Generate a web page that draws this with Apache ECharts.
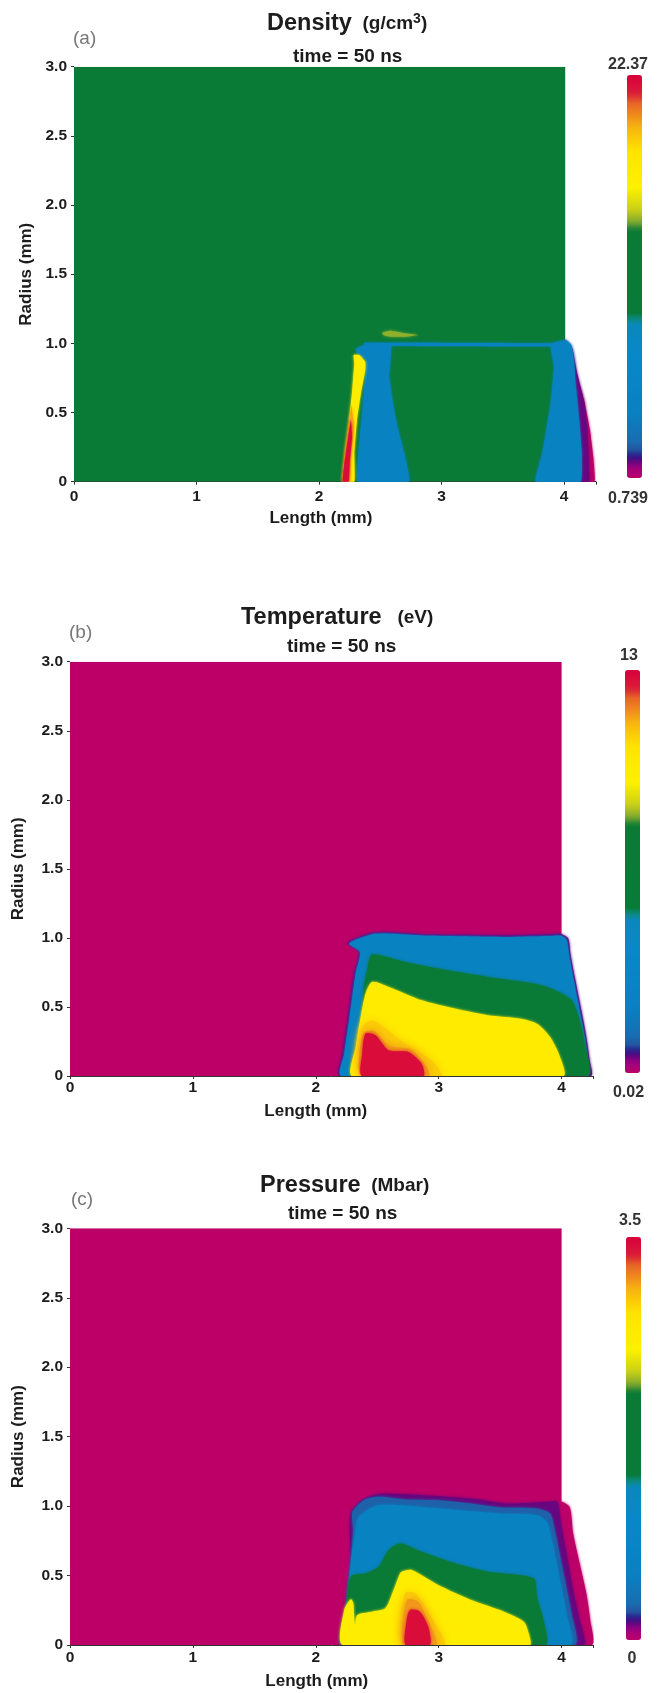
<!DOCTYPE html>
<html><head><meta charset="utf-8">
<script src="https://cdn.jsdelivr.net/npm/echarts@6/dist/echarts.min.js"></script>
<style>html,body{margin:0;padding:0;background:#fff}#c{width:662px;height:1693px;filter:blur(0.55px)}</style>
</head><body><div id="c"></div>
<script>
const lengthTicks = ['0','1','2','3','4'];
const radiusTicks = ['0','0.5','1.0','1.5','2.0','2.5','3.0'];

const densityRange = [0.739, 22.37];
const densityLevels = [11.5, 0.74, 1.6, 5.06, 5.06, 5.06, 16.7, 19.8, 21.9, 14.6];
const densityOutlines = [
 [[0,0],[4.01,0],[4.01,3],[0,3]],
 [[4.12,.7],[4.163,.59],[4.212,.373],[4.239,.18],[4.25,0],[4.136,0]],
 [[4.014,1.024],[4.068,.964],[4.109,.783],[4.163,.59],[4.19,.4],[4.207,0],[4.136,0],[4,1]],
 [[3.891,.995],[4.014,1.024],[4.06,.988],[4.082,.88],[4.095,.711],[4.122,.47],[4.144,.229],[4.136,0],[3.769,0],[3.823,.205],[3.891,.566],[3.918,.831]],
 [[2.37,.985],[3.9,.98],[3.9,1],[2.37,1.005]],
 [[2.37,.988],[2.587,.988],[2.573,.759],[2.628,.446],[2.696,.205],[2.736,0],[2.315,0],[2.342,.398],[2.378,.759],[2.383,.88],[2.31,.93],[2.3,.96]],
 [[2.283,.916],[2.329,.916],[2.378,.867],[2.378,.807],[2.342,.639],[2.31,.446],[2.288,.205],[2.288,0],[2.193,0],[2.212,.205],[2.247,.446],[2.274,.687],[2.288,.855]],
 [[2.265,.55],[2.285,.4],[2.262,.2],[2.25,0],[2.193,0],[2.212,.205],[2.247,.446]],
 [[2.261,.45],[2.27,.325],[2.25,.13],[2.242,0],[2.193,0],[2.207,.13],[2.239,.325]],
 [[2.516,1.078],[2.583,1.092],[2.707,1.072],[2.815,1.06],[2.707,1.048],[2.583,1.048],[2.527,1.06]]
];

const temperatureRange = [0.02, 13];
const temperatureLevels = [0.02, 0.54, 2.6, 6.5, 9.9, 10.9, 11.6, 12.74];
const temperatureOutlines = [
 [[0,0],[4,0],[4,3],[0,3]],
 [[2.257,.964],[2.458,1.036],[2.592,1.041],[2.861,1.027],[3.182,1.022],[3.558,1.019],[3.906,1.027],[4,1.027],[4.054,.995],[4.072,.886],[4.107,.717],[4.161,.476],[4.201,.283],[4.228,.114],[4.236,0],[2.196,0],[2.217,.162],[2.257,.403],[2.311,.742],[2.351,.899]],
 [[2.271,.959],[2.458,1.027],[2.592,1.031],[2.861,1.017],[3.182,1.012],[3.558,1.007],[3.906,1.014],[3.992,1.017],[4.04,.988],[4.062,.874],[4.094,.717],[4.147,.476],[4.188,.283],[4.214,.114],[4.209,0],[2.209,0],[2.231,.162],[2.271,.403],[2.324,.742],[2.359,.899]],
 [[2.458,.879],[2.727,.826],[2.995,.778],[3.397,.717],[3.772,.669],[3.933,.626],[4.08,.548],[4.147,.403],[4.188,.234],[4.209,0],[2.298,0],[2.365,.283],[2.391,.645],[2.418,.766]],
 [[2.458,.681],[2.592,.645],[2.861,.548],[3.129,.488],[3.397,.44],[3.665,.415],[3.799,.379],[3.906,.283],[3.987,.138],[4.013,0],[2.298,0],[2.324,.21],[2.365,.428],[2.405,.597]],
 [[2.378,0],[2.365,.33],[2.458,.403],[2.727,.234],[2.941,.114],[3.021,0]],
 [[2.375,0],[2.38,.3],[2.47,.33],[2.6,.22],[2.78,.19],[2.9,.07],[2.92,0]],
 [[2.405,.307],[2.485,.295],[2.592,.186],[2.753,.174],[2.861,.089],[2.874,0],[2.378,0],[2.378,.162]]
];

const pressureRange = [0, 3.5];
const pressureLevels = [0, 0, 0.14, 0.28, 0.7, 1.75, 2.6, 2.94, 3.12, 3.43];
const pressureOutlines = [
 [[0,0],[4,0],[4,3],[0,3]],
 [[4,1.031],[4.067,.99],[4.094,.803],[4.147,.588],[4.201,.372],[4.233,.18],[4.247,0],[3.9,0],[3.9,1.03]],
 [[2.284,.947],[2.378,1.043],[2.512,1.086],[2.861,1.079],[3.263,1.055],[3.558,1.019],[3.906,1.031],[3.965,1.031],[4,.85],[4.04,.66],[4.094,.396],[4.147,.18],[4.174,0],[2.223,0],[2.249,.276],[2.284,.588]],
 [[2.298,.959],[2.391,1.043],[2.512,1.067],[2.727,1.048],[2.995,1.043],[3.263,1.019],[3.504,.99],[3.799,.983],[3.906,.947],[3.933,.875],[3.973,.707],[4.027,.468],[4.08,.228],[4.102,0],[2.223,0],[2.249,.276],[2.284,.588],[2.303,.827]],
 [[2.351,.923],[2.512,1.007],[2.995,.983],[3.504,.947],[3.799,.935],[3.879,.887],[3.933,.707],[3.987,.468],[4.04,.228],[4.067,0],[2.223,0],[2.249,.276],[2.284,.588],[2.32,.8]],
 [[2.249,.276],[2.284,.492],[2.405,.516],[2.512,.564],[2.592,.683],[2.686,.731],[2.861,.671],[3.129,.588],[3.397,.528],[3.772,.48],[3.799,.348],[3.858,.156],[3.866,0],[2.223,0]],
 [[2.7,.528],[2.78,.54],[2.995,.432],[3.263,.324],[3.531,.24],[3.692,.168],[3.732,.084],[3.74,0],[2.223,0],[2.231,.252],[2.284,.33],[2.305,.3],[2.318,.14],[2.338,.216],[2.458,.24],[2.566,.264],[2.633,.396],[2.686,.516]],
 [[2.727,.372],[2.807,.372],[2.968,.156],[3.048,0],[2.7,0]],
 [[2.74,.324],[2.834,.312],[2.914,.18],[2.981,0],[2.713,0]],
 [[2.767,.252],[2.847,.24],[2.914,.132],[2.928,0],[2.732,0],[2.74,.18]]
];

/* colour bar stops: fraction from bottom, colour */
const barStops = [[0,'#bc0068'],[.025,'#a00080'],[.045,'#55087f'],[.055,'#2a1c8c'],[.07,'#22559f'],[.09,'#1a6cb0'],[.16,'#0a80c0'],[.3,'#0888c8'],[.38,'#0a88bb'],[.395,'#0c8a80'],[.41,'#0a7a38'],[.615,'#0a7a35'],[.635,'#80a830'],[.665,'#c8d018'],[.72,'#fff000'],[.81,'#ffe400'],[.87,'#f6b410'],[.93,'#e86428'],[.955,'#da1c38'],[1,'#d8003c']];

function barColors() {
  const hex = c => [1,3,5].map(i => parseInt(c.slice(i,i+2),16));
  const out = [];
  for (let i = 0; i <= 100; i++) {
    const f = i / 100;
    let k = 0;
    while (k < barStops.length - 2 && barStops[k+1][0] < f) k++;
    const [f0,c0] = barStops[k], [f1,c1] = barStops[k+1];
    const t = Math.min(1, Math.max(0, (f - f0) / (f1 - f0)));
    const a = hex(c0), b = hex(c1);
    out.push('rgb(' + a.map((v,j) => Math.round(v + (b[j]-v)*t)).join(',') + ')');
  }
  return out;
}

const ink = '#1c1c1c';
const font = '"Liberation Sans", Arial, sans-serif';
const panels = [
 {tag:'(a)', tagPos:[73,29], head:'{m|Density}{u|  (g/cm}{s|3}{u|)}', headPos:[267,12], timePos:[293,47], bar:[627,75], barEnds:[[628,65],[628,499]], levels:densityLevels, outlines:densityOutlines, range:densityRange, ends:['22.37','0.739'], left:74, xu:122.5, top:66.7, h:415, xPad:28, yGap:38, xNameGap:28, xMargin:7, soft:3, smooth:0.1},
 {tag:'(b)', tagPos:[69,623], head:'{m|Temperature}{u|   (eV)}', headPos:[241,606], timePos:[287,637], bar:[625,670], barEnds:[[629,656],[628.5,1093]], levels:temperatureLevels, outlines:temperatureOutlines, range:temperatureRange, ends:['13','0.02'], left:70, xu:122.9, top:661.7, h:414.3, xPad:32, yGap:43, xNameGap:27, xMargin:4, soft:10, smooth:0.25},
 {tag:'(c)', tagPos:[71,1190], head:'{m|Pressure}{u|  (Mbar)}', headPos:[260,1174], timePos:[288,1204], bar:[626,1237], barEnds:[[630,1221],[632,1659]], levels:pressureLevels, outlines:pressureOutlines, range:pressureRange, ends:['3.5','0'], left:70, xu:122.9, top:1228.3, h:416.7, xPad:30, yGap:43, xNameGap:28, xMargin:5, soft:10, smooth:0.25}
];

const headRich = {m:{fontSize:23.5,fontWeight:'bold',fontFamily:font,color:ink},
  u:{fontSize:19,fontWeight:'bold',fontFamily:font,color:ink},
  s:{fontSize:14,fontWeight:'bold',fontFamily:font,color:ink,verticalAlign:'top',padding:[0,0,10,0]}};

const region = p => (params, api) => {
  const k = api.value(1), fill = api.visual('color');
  const f = (api.value(0) - p.range[0]) / (p.range[1] - p.range[0]);
  return {
    type:'polygon',
    shape:{points:p.outlines[k].map(q => api.coord(q)), smooth:k === 0 ? 0 : p.smooth},
    style:{fill:fill, shadowColor:fill, shadowBlur:k === 0 ? 0 : (f > 0.8 && f < 0.95 ? p.soft : 3)}
  };
};

const option = {
  animation:false, backgroundColor:'#fff',
  title:[], grid:[], xAxis:[], yAxis:[], series:[], visualMap:[], graphic:[]
};
const colors = barColors();
panels.forEach((p,i) => {
  option.title.push(
    {text:p.tag, left:p.tagPos[0], top:p.tagPos[1], padding:0, textStyle:{fontSize:19,fontWeight:'normal',fontFamily:font,color:'#777'}},
    {text:p.head, left:p.headPos[0], top:p.headPos[1], padding:0, textStyle:{rich:headRich}},
    {text:'time = 50 ns', left:p.timePos[0], top:p.timePos[1], padding:0, textStyle:{fontSize:19,fontWeight:'bold',fontFamily:font,color:ink}}
  );
  option.grid.push({left:p.left, top:p.top, width:p.xu*4.26, height:p.h});
  option.xAxis.push({gridIndex:i, type:'value', min:0, max:4.26, interval:1,
    name:'Length (mm)', nameLocation:'middle', nameGap:p.xNameGap,
    nameTextStyle:{fontSize:17,fontWeight:'bold',fontFamily:font,color:ink,padding:[0,p.xPad,0,0]},
    axisLine:{show:true,lineStyle:{color:'#333',width:1}}, axisTick:{show:true,length:3,lineStyle:{color:'#333'}},
    splitLine:{show:false},
    axisLabel:{fontSize:15.5,fontWeight:'bold',fontFamily:font,color:ink,margin:p.xMargin,formatter:v => lengthTicks[v] ?? ''}});
  option.yAxis.push({gridIndex:i, type:'value', min:0, max:3, interval:0.5,
    name:'Radius (mm)', nameLocation:'middle', nameGap:p.yGap, nameRotate:90,
    nameTextStyle:{fontSize:17,fontWeight:'bold',fontFamily:font,color:ink},
    axisLine:{show:false}, axisTick:{show:true,length:3,lineStyle:{color:'#333'}},
    splitLine:{show:false},
    axisLabel:{fontSize:15.5,fontWeight:'bold',fontFamily:font,color:ink,margin:7,formatter:v => radiusTicks[Math.round(v*2)]}});
  option.series.push({type:'custom', xAxisIndex:i, yAxisIndex:i, silent:true, clip:true,
    renderItem:region(p), data:p.levels.map((v,k) => [v,k])});
  option.visualMap.push({type:'continuous', seriesIndex:i, dimension:0, min:p.range[0], max:p.range[1],
    itemWidth:15, itemHeight:403, left:p.bar[0], top:p.bar[1], padding:0,
    calculable:false, realtime:false, hoverLink:false, silent:true, showLabel:false,
    inRange:{color:colors}});
  p.ends.forEach((t,e) => option.graphic.push({type:'text', silent:true, x:p.barEnds[e][0], y:p.barEnds[e][1],
    style:{text:t, align:'center', verticalAlign:'middle', fill:'#333', font:'bold 16px "Liberation Sans", Arial, sans-serif'}}));
});
const chart = echarts.init(document.getElementById('c'), null, {renderer:'canvas', width:662, height:1693});
chart.setOption(option);
</script></body></html>
